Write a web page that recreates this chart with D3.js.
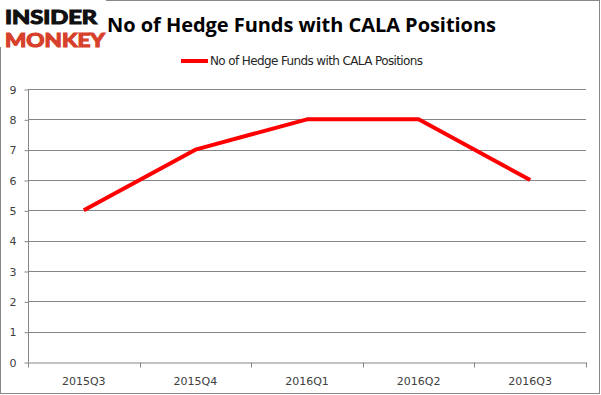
<!DOCTYPE html>
<html>
<head>
<meta charset="utf-8">
<script src="https://cdn.jsdelivr.net/npm/d3@7"></script>
<style>
  body { margin: 0; background: #fff; }
  svg { display: block; }
</style>
</head>
<body>
<script>
const quarters = ["2015Q3", "2015Q4", "2016Q1", "2016Q2", "2016Q3"];
const funds = [5, 7, 8, 8, 6];
const yTicks = [0, 1, 2, 3, 4, 5, 6, 7, 8, 9];
const seriesName = "No of Hedge Funds with CALA Positions";

const width = 601, height = 395;
const margin = { top: 89, right: 15, bottom: 33, left: 28 };

const svg = d3.select("body")
  .append("svg")
  .attr("width", width)
  .attr("height", height);

// outer frame
svg.append("rect")
  .attr("x", 0.5).attr("y", 0.5)
  .attr("width", width - 2).attr("height", height - 2)
  .attr("fill", "#fff")
  .attr("stroke", "#888");

const x = d3.scaleBand()
  .domain(quarters)
  .range([margin.left, width - margin.right]);

const y = d3.scaleLinear()
  .domain([0, 9])
  .range([height - margin.bottom, margin.top]);

// grid
svg.append("g")
  .selectAll("line")
  .data(yTicks.slice(1))
  .enter()
  .append("line")
  .attr("x1", margin.left)
  .attr("x2", width - margin.right)
  .attr("y1", (d) => Math.round(y(d)) + 0.5)
  .attr("y2", (d) => Math.round(y(d)) + 0.5)
  .attr("stroke", "#868686");

// y axis
const yAxis = svg.append("g")
  .attr("transform", "translate(" + (margin.left + 0.5) + ",0.5)")
  .call(d3.axisLeft(y).tickValues(yTicks).tickSize(4).tickPadding(8).tickFormat(d3.format("d")));
yAxis.selectAll("line, path").attr("stroke", "#868686");
yAxis.select(".domain").attr("d", "M0," + y(9) + "V" + y(0));
yAxis.selectAll("text")
  .attr("fill", "#404040")
  .style("font", "11px 'DejaVu Sans', sans-serif");

// x axis
const xAxis = svg.append("g")
  .attr("transform", "translate(0," + (Math.round(y(0)) + 0.5) + ")")
  .call(d3.axisBottom(x).tickSize(0).tickPadding(15));
xAxis.select(".domain").attr("stroke", "#868686");
xAxis.selectAll("text")
  .attr("fill", "#404040")
  .style("font", "11px 'DejaVu Sans', sans-serif");
xAxis.selectAll(".sep")
  .data(quarters.concat(["end"]))
  .enter()
  .append("line")
  .attr("x1", (d, i) => Math.round(margin.left + i * x.bandwidth()) + 0.5)
  .attr("x2", (d, i) => Math.round(margin.left + i * x.bandwidth()) + 0.5)
  .attr("y1", 0).attr("y2", 5)
  .attr("stroke", "#868686");

// line
svg.append("path")
  .datum(funds)
  .attr("fill", "none")
  .attr("stroke", "#ff0000")
  .attr("stroke-width", 4)
  .attr("stroke-linejoin", "round")
  .attr("d", d3.line()
    .x((d, i) => x(quarters[i]) + x.bandwidth() / 2)
    .y((d) => y(d)));

// title
svg.append("text")
  .attr("x", 107).attr("y", 32)
  .attr("textLength", 389)
  .attr("fill", "#000")
  .style("font", "bold 20px 'Open Sans', sans-serif")
  .text(seriesName);

// legend
svg.append("line")
  .attr("x1", 181).attr("x2", 208)
  .attr("y1", 61).attr("y2", 61)
  .attr("stroke", "#ff0000")
  .attr("stroke-width", 4);
svg.append("text")
  .attr("x", 210).attr("y", 65)
  .attr("textLength", 213)
  .attr("fill", "#262626")
  .style("font", "12px 'DejaVu Sans', sans-serif")
  .text(seriesName);

// logo
svg.append("rect")
  .attr("x", 0).attr("y", 0)
  .attr("width", 106).attr("height", 47)
  .attr("fill", "#fff");
svg.append("text")
  .attr("x", 5).attr("y", 24)
  .attr("textLength", 92)
  .attr("lengthAdjust", "spacingAndGlyphs")
  .attr("fill", "#111")
  .attr("stroke", "#111")
  .attr("stroke-width", 1.2)
  .style("font", "bold 19px Lato, sans-serif")
  .text("INSIDER");
svg.append("text")
  .attr("x", 5).attr("y", 47)
  .attr("textLength", 100)
  .attr("lengthAdjust", "spacingAndGlyphs")
  .attr("fill", "#d7402a")
  .attr("stroke", "#d7402a")
  .attr("stroke-width", 1.2)
  .style("font", "bold 19px Lato, sans-serif")
  .text("MONKEY");
</script>
</body>
</html>
